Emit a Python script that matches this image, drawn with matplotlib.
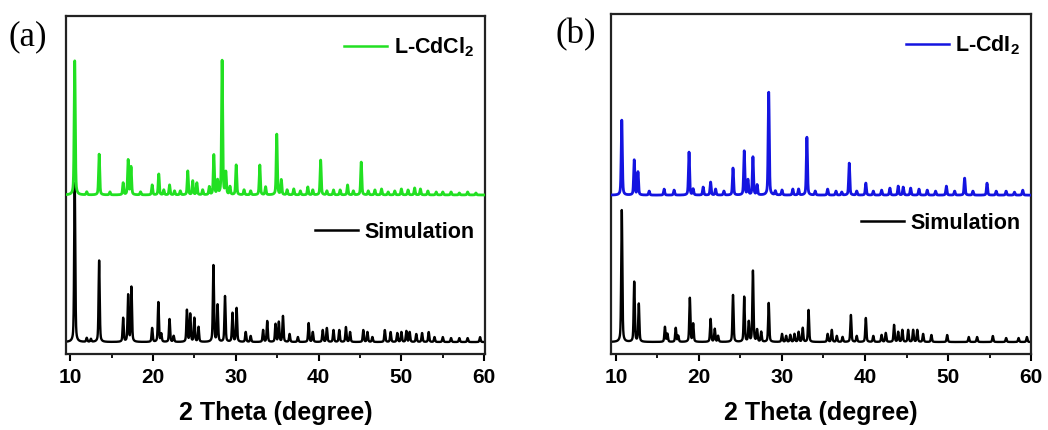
import numpy as np
import matplotlib
matplotlib.use("Agg")
import matplotlib.pyplot as plt
from matplotlib.lines import Line2D
from matplotlib.ticker import MultipleLocator

plt.rcParams['font.family'] = ['Liberation Sans', 'DejaVu Sans']
plt.rcParams['mathtext.fontset'] = 'custom'
plt.rcParams['mathtext.rm'] = 'Liberation Sans:bold'
plt.rcParams['mathtext.bf'] = 'Liberation Sans:bold'

# ---------------- data (peak positions in 2theta, relative heights) ----------------
# Panel (a): experimental L-CdCl2
cdcl2_pos = [10.55, 12.0, 13.5, 14.8, 16.4, 17.0, 17.35, 18.5, 19.9, 20.7, 21.3, 22.0, 22.6,
             23.3, 24.2, 24.8, 25.3, 26.0, 26.8, 27.35, 27.8, 28.35, 28.8, 29.3, 30.05, 31.0,
             31.8, 32.9, 33.6, 34.95, 35.5, 36.2, 37.0, 37.8, 38.7, 39.3, 40.25, 41.0, 41.8,
             42.6, 43.5, 44.2, 45.15, 46.0, 46.8, 47.6, 48.4, 49.2, 50.0, 50.8, 51.6, 52.3,
             53.2, 54.2, 55.0, 56.0, 57.0, 58.0, 59.0]
cdcl2_int = [135, 3, 41, 3, 12, 35, 28, 3, 10, 21, 5, 10, 4,
             4, 24, 14, 12, 5, 8, 40, 14, 135, 22, 8, 30, 5,
             4, 30, 8, 61, 15, 5, 6, 4, 8, 5, 35, 4, 5,
             5, 10, 4, 33, 4, 5, 6, 3, 4, 6, 5, 7, 6,
             4, 3, 3, 3, 2, 3, 2]

# Panel (a): simulated pattern
sima_pos = [10.55, 12.0, 12.5, 13.5, 16.4, 17.0, 17.4, 19.9, 20.65, 21.0, 22.0, 22.5, 24.1,
            24.5, 25.0, 25.5, 27.3, 27.8, 28.7, 29.6, 30.1, 31.2, 31.8, 33.3, 33.8, 34.8,
            35.2, 35.7, 36.5, 37.5, 38.8, 39.3, 40.5, 41.0, 41.8, 42.5, 43.3, 43.8, 45.4,
            45.9, 46.5, 48.0, 48.7, 49.5, 50.0, 50.6, 51.0, 51.8, 52.5, 53.3, 54.0, 55.0,
            56.0, 57.0, 58.0, 59.5]
sima_int = [160, 4, 3, 82, 24, 47, 55, 14, 40, 8, 23, 6, 32,
            28, 24, 15, 77, 37, 46, 29, 34, 10, 6, 12, 21, 18,
            20, 26, 8, 5, 19, 10, 12, 14, 12, 12, 15, 10, 12,
            10, 5, 12, 10, 9, 10, 11, 10, 8, 9, 10, 5, 5,
            4, 4, 4, 5]

# Panel (b): experimental L-CdI2
cdi2_pos = [10.7, 12.2, 12.65, 14.0, 15.8, 17.0, 18.8, 19.3, 20.5, 21.4, 22.0, 23.0, 24.1,
            25.45, 25.9, 26.5, 27.0, 28.4, 29.2, 30.0, 31.3, 32.0, 33.0, 34.0, 35.5, 36.5,
            37.2, 38.1, 39.0, 40.1, 41.0, 42.0, 43.0, 44.0, 44.6, 45.5, 46.5, 47.5, 48.5,
            49.8, 50.8, 52.0, 53.0, 54.7, 55.8, 57.0, 58.0, 59.0]
cdi2_int = [75, 35, 23, 4, 6, 5, 43, 6, 8, 13, 6, 4, 27,
            44, 15, 38, 10, 103, 4, 5, 6, 6, 58, 4, 6, 4,
            3, 32, 4, 12, 4, 5, 7, 9, 8, 7, 6, 5, 4,
            9, 4, 17, 4, 12, 4, 4, 3, 5]

# Panel (b): simulated pattern
simb_pos = [10.7, 12.2, 12.75, 15.9, 16.2, 17.2, 17.5, 18.9, 19.3, 21.4, 21.9, 22.3, 24.1,
            25.45, 26.0, 26.5, 27.0, 27.5, 28.4, 30.0, 30.5, 31.0, 31.5, 32.0, 32.5, 33.2,
            35.5, 36.0, 36.6, 37.3, 38.3, 39.0, 40.1, 41.0, 42.0, 42.5, 43.5, 44.0, 44.5,
            45.2, 45.8, 46.3, 47.0, 48.0, 49.9, 52.5, 53.5, 55.4, 57.0, 58.5, 59.5]
simb_int = [132, 60, 38, 15, 8, 14, 6, 44, 18, 23, 13, 6, 47,
            45, 20, 71, 12, 10, 39, 8, 6, 7, 8, 10, 14, 32,
            8, 12, 6, 5, 27, 6, 24, 6, 7, 9, 17, 10, 12,
            12, 12, 12, 8, 7, 7, 5, 5, 6, 4, 4, 5]

x_ticks = [10, 20, 30, 40, 50, 60]
labels = ['L-CdCl$_{\\mathbf{2}}$', 'L-CdI$_{\\mathbf{2}}$', 'Simulation']
panel_tags = ['(a)', '(b)']

GREEN = '#22e022'
BLUE = '#1414e0'


def profile(x, pos, inten, w):
    y = np.zeros_like(x)
    for p, h in zip(pos, inten):
        g = np.exp(-0.5 * ((x - p) / w) ** 2)
        l = 1.0 / (1.0 + ((x - p) / (1.4 * w)) ** 2)
        y += h * (0.65 * g + 0.35 * l)
    return y


fig = plt.figure(figsize=(10.48, 4.30), dpi=100)
axa = fig.add_axes([0.063, 0.1767, 0.3998, 0.786])
axb = fig.add_axes([0.583, 0.1767, 0.4008, 0.790])

x = np.linspace(9.3, 60.2, 8000)

panels = [
    (axa, cdcl2_pos, cdcl2_int, GREEN, 160, sima_pos, sima_int, labels[0], (9.5, 60.1)),
    (axb, cdi2_pos, cdi2_int, BLUE, 159, simb_pos, simb_int, labels[1], (9.4, 60.0)),
]

for ax, epos, eint, col, off, spos, sint, lab, xl in panels:
    ysim = 12 + profile(x, spos, sint, 0.065)
    yexp = off + profile(x, epos, eint, 0.065)
    ax.plot(x, ysim, color='black', lw=1.7, zorder=2)
    ax.plot(x, yexp, color=col, lw=2.0, zorder=3)
    ax.set_xlim(*xl)
    ax.set_ylim(0, 340)
    ax.set_yticks([])
    ax.set_xticks(x_ticks)
    ax.xaxis.set_minor_locator(MultipleLocator(5))
    ax.tick_params(axis='x', which='major', direction='out', length=5, width=1.5,
                   labelsize=15, pad=5)
    ax.tick_params(axis='x', which='minor', direction='out', length=3, width=1.3)
    for lbl in ax.get_xticklabels():
        lbl.set_fontweight('bold')
    for s in ax.spines.values():
        s.set_linewidth(1.6)
        s.set_color('#222222')
    ax.set_xlabel('2 Theta (degree)', fontsize=18, fontweight='bold', labelpad=10)

    h1 = Line2D([], [], color=col, lw=1.8)
    h2 = Line2D([], [], color='black', lw=1.8)
    leg1 = ax.legend([h1], [lab], loc='center right', bbox_to_anchor=(1.0, 0.908),
                     frameon=False, handlelength=2.0, handletextpad=0.3,
                     borderaxespad=0.1, prop={'weight': 'bold', 'size': 15.5})
    ax.add_artist(leg1)
    yleg2 = 0.361 if ax is axa else 0.385
    ax.legend([h2], [labels[2]], loc='center right', bbox_to_anchor=(1.0, yleg2),
              frameon=False, handlelength=2.0, handletextpad=0.3,
              borderaxespad=0.1, prop={'weight': 'bold', 'size': 15.5})

fig.text(0.008, 0.915, panel_tags[0], fontsize=25, family='Liberation Serif', va='center')
fig.text(0.530, 0.920, panel_tags[1], fontsize=25, family='Liberation Serif', va='center')

fig.savefig('out.png', dpi=100)
